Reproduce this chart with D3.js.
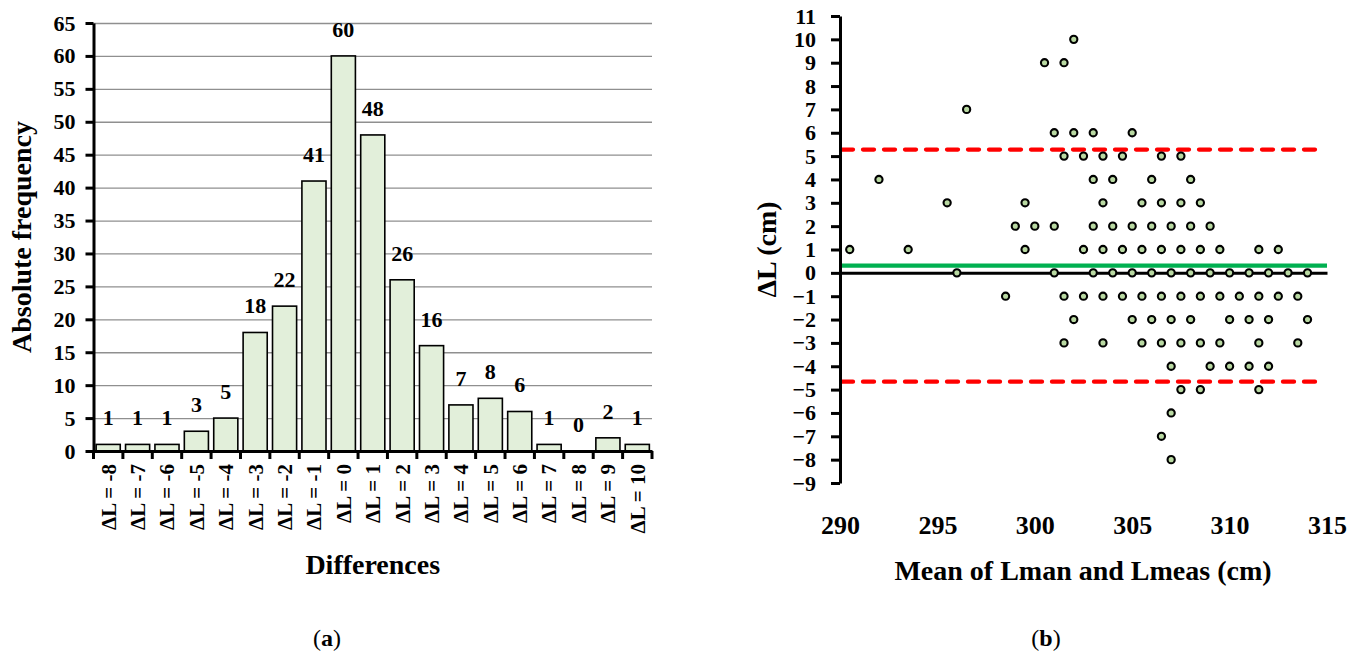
<!DOCTYPE html>
<html lang="en">
  <head>
    <title>Differences and Bland-Altman plot</title>
    <meta charset="utf-8">
    <script src="https://d3js.org/d3.v7.min.js"></script>
    <style>
      body { margin: 0; background: #fff; }
      text { font-family: "Palatino Linotype", "Book Antiqua", Palatino, "Liberation Serif", serif; font-weight: bold; fill: #000; }
    </style>
  </head>

<body>
  <div id="my_dataviz"></div>

  <script>

    // (a) frequency of the differences
    var diffLabels = ["ΔL = -8", "ΔL = -7", "ΔL = -6", "ΔL = -5", "ΔL = -4", "ΔL = -3", "ΔL = -2",
                      "ΔL = -1", "ΔL = 0", "ΔL = 1", "ΔL = 2", "ΔL = 3", "ΔL = 4", "ΔL = 5",
                      "ΔL = 6", "ΔL = 7", "ΔL = 8", "ΔL = 9", "ΔL = 10"];
    var diffCounts = [1, 1, 1, 3, 5, 18, 22, 41, 60, 48, 26, 16, 7, 8, 6, 1, 0, 2, 1];
    var freqTicks = [0, 5, 10, 15, 20, 25, 30, 35, 40, 45, 50, 55, 60, 65];

    // (b) Bland-Altman points, one row per value of ΔL
    var meanLen = [
      302,
      300.5, 301.5,
      296.5,
      301, 302, 303, 305,
      301.5, 302.5, 303.5, 304.5, 306.5, 307.5,
      292, 303, 304, 306, 308,
      295.5, 299.5, 303.5, 305.5, 306.5, 307.5, 308.5,
      299, 300, 301, 303, 304, 305, 306, 307, 308, 309,
      290.5, 293.5, 299.5, 302.5, 303.5, 304.5, 305.5, 306.5, 307.5, 308.5, 309.5, 311.5, 312.5,
      296, 301, 303, 304, 305, 306, 307, 308, 309, 310, 311, 312, 313, 314,
      298.5, 301.5, 302.5, 303.5, 304.5, 305.5, 306.5, 307.5, 308.5, 309.5, 310.5, 311.5, 312.5, 313.5,
      302, 305, 306, 307, 308, 310, 311, 312, 314,
      301.5, 303.5, 305.5, 306.5, 307.5, 308.5, 309.5, 311.5, 313.5,
      307, 309, 310, 311, 312,
      307.5, 308.5, 311.5,
      307,
      306.5,
      307
    ];
    var deltaL = [
      10,
      9, 9,
      7,
      6, 6, 6, 6,
      5, 5, 5, 5, 5, 5,
      4, 4, 4, 4, 4,
      3, 3, 3, 3, 3, 3, 3,
      2, 2, 2, 2, 2, 2, 2, 2, 2, 2,
      1, 1, 1, 1, 1, 1, 1, 1, 1, 1, 1, 1, 1,
      0, 0, 0, 0, 0, 0, 0, 0, 0, 0, 0, 0, 0, 0,
      -1, -1, -1, -1, -1, -1, -1, -1, -1, -1, -1, -1, -1, -1,
      -2, -2, -2, -2, -2, -2, -2, -2, -2,
      -3, -3, -3, -3, -3, -3, -3, -3, -3,
      -4, -4, -4, -4, -4,
      -5, -5, -5,
      -6,
      -7,
      -8
    ];
    var baTicksX = [290, 295, 300, 305, 310, 315];
    var baTicksY = [-9, -8, -7, -6, -5, -4, -3, -2, -1, 0, 1, 2, 3, 4, 5, 6, 7, 8, 9, 10, 11];
    var meanDiff = 0.31;
    var loaLines = [5.28, -4.66];

    var svg = d3.select("#my_dataviz")
      .append("svg")
        .attr("width", 1365)
        .attr("height", 657);

    // ---------- panel (a) ----------
    var plotL = 93.5, plotR = 652, plotB = 451, plotT = 23;
    var x = d3.scaleBand()
      .domain(diffLabels)
      .range([plotL, plotR])
      .paddingInner(0.18)
      .paddingOuter(0.09);
    var y = d3.scaleLinear()
      .domain([0, 65])
      .range([plotB, plotT]);

    var ga = svg.append("g");

    // gridlines
    var grid = ga.append("g")
      .attr("transform", "translate(" + plotL + ",0)")
      .call(d3.axisLeft(y).tickValues(freqTicks.slice(1)).tickSize(-(plotR - plotL)).tickFormat(""));
    grid.select(".domain").remove();
    grid.selectAll("line").attr("stroke", "#8f8f8f").attr("stroke-width", 1.3);

    // bars
    ga.selectAll("rect")
      .data(diffCounts).enter().append("rect")
      .attr("x", function(d, i) { return x(diffLabels[i]); })
      .attr("y", function(d) { return y(d); })
      .attr("width", x.bandwidth())
      .attr("height", function(d) { return y(0) - y(d); })
      .attr("fill", "#e2efda")
      .attr("stroke", "#000")
      .attr("stroke-width", 1.6);

    // value labels
    ga.selectAll(".val")
      .data(diffCounts).enter().append("text")
      .attr("class", "val")
      .attr("x", function(d, i) { return x(diffLabels[i]) + x.bandwidth() / 2; })
      .attr("y", function(d) { return y(d) - 19; })
      .attr("text-anchor", "middle")
      .attr("font-size", 22)
      .text(function(d) { return d; });

    // y axis
    var yAx = ga.append("g")
      .attr("transform", "translate(" + plotL + ",0)")
      .call(d3.axisLeft(y).tickValues(freqTicks).tickSize(8).tickSizeOuter(0).tickPadding(10))
      .attr("font-size", 22);
    yAx.selectAll("line, path").attr("stroke", "#000").attr("stroke-width", 3);

    // x axis with rotated labels
    var xAx = ga.append("g")
      .attr("transform", "translate(0," + plotB + ")")
      .call(d3.axisBottom(x).tickSize(0).tickSizeOuter(0))
      .attr("font-size", 21);
    xAx.select(".domain").attr("stroke", "#000").attr("stroke-width", 3);
    xAx.selectAll("text")
      .attr("transform", "rotate(-90)")
      .attr("x", -13)
      .attr("y", 0)
      .attr("dy", "0.35em")
      .attr("text-anchor", "end");

    // tick marks between categories
    ga.selectAll(".sep")
      .data(d3.range(diffLabels.length + 1)).enter().append("line")
      .attr("class", "sep")
      .attr("x1", function(i) { return plotL + i * x.step(); })
      .attr("x2", function(i) { return plotL + i * x.step(); })
      .attr("y1", plotB)
      .attr("y2", plotB + 8)
      .attr("stroke", "#000")
      .attr("stroke-width", 3);

    ga.append("text")
      .attr("x", (plotL + plotR) / 2)
      .attr("y", 574)
      .attr("text-anchor", "middle")
      .attr("font-size", 28)
      .text("Differences");
    ga.append("text")
      .attr("transform", "translate(31," + (plotT + plotB) / 2 + ") rotate(-90)")
      .attr("text-anchor", "middle")
      .attr("font-size", 28)
      .text("Absolute frequency");

    var capA = ga.append("text")
      .attr("x", 327).attr("y", 646)
      .attr("text-anchor", "middle")
      .attr("font-size", 24);
    capA.append("tspan").attr("font-weight", "normal").text("(");
    capA.append("tspan").text("a");
    capA.append("tspan").attr("font-weight", "normal").text(")");

    // ---------- panel (b) ----------
    var xs = d3.scaleLinear()
      .domain([290, 315])
      .range([840, 1327]);
    var ys = d3.scaleLinear()
      .domain([-9, 11])
      .range([483, 16]);

    var gb = svg.append("g");

    // zero line (horizontal axis)
    var zeroAx = gb.append("g")
      .attr("transform", "translate(0," + ys(0) + ")")
      .call(d3.axisBottom(xs).tickValues(baTicksX).tickSize(0).tickSizeOuter(0).tickFormat(""));
    zeroAx.select(".domain").attr("stroke", "#000").attr("stroke-width", 3);

    // mean difference
    gb.append("line")
      .attr("x1", xs(290)).attr("x2", xs(315))
      .attr("y1", ys(meanDiff)).attr("y2", ys(meanDiff))
      .attr("stroke", "#00b050")
      .attr("stroke-width", 4.3);

    // limits of agreement
    gb.selectAll(".loa")
      .data(loaLines).enter().append("line")
      .attr("class", "loa")
      .attr("x1", xs(290) + 2).attr("x2", xs(314.7))
      .attr("y1", function(d) { return ys(d); })
      .attr("y2", function(d) { return ys(d); })
      .attr("stroke", "#ff0000")
      .attr("stroke-width", 4.3)
      .attr("stroke-linecap", "round")
      .attr("stroke-dasharray", "11,10");

    // x labels (no axis line at the bottom)
    var xLab = gb.append("g")
      .attr("transform", "translate(0,508)")
      .call(d3.axisBottom(xs).tickValues(baTicksX).tickSize(0).tickPadding(8))
      .attr("font-size", 26);
    xLab.select(".domain").remove();

    // y axis
    var ysAx = gb.append("g")
      .attr("transform", "translate(" + xs(290) + ",0)")
      .call(d3.axisLeft(ys).tickValues(baTicksY).tickSize(9).tickSizeOuter(0).tickPadding(15))
      .attr("font-size", 22);
    ysAx.selectAll("line, path").attr("stroke", "#000").attr("stroke-width", 3);

    // points
    gb.selectAll("circle")
      .data(meanLen).enter().append("circle")
      .attr("cx", function(d) { return xs(d); })
      .attr("cy", function(d, i) { return ys(deltaL[i]); })
      .attr("r", 3.6)
      .attr("fill", "#b9d9a2")
      .attr("stroke", "#000")
      .attr("stroke-width", 2.1);

    gb.append("text")
      .attr("x", 1083)
      .attr("y", 580)
      .attr("text-anchor", "middle")
      .attr("font-size", 28)
      .text("Mean of Lman and Lmeas (cm)");
    gb.append("text")
      .attr("transform", "translate(776," + ys(1) + ") rotate(-90)")
      .attr("text-anchor", "middle")
      .attr("font-size", 28)
      .text("ΔL (cm)");

    var capB = gb.append("text")
      .attr("x", 1046).attr("y", 646)
      .attr("text-anchor", "middle")
      .attr("font-size", 24);
    capB.append("tspan").attr("font-weight", "normal").text("(");
    capB.append("tspan").text("b");
    capB.append("tspan").attr("font-weight", "normal").text(")");

  </script>

</body>
</html>
